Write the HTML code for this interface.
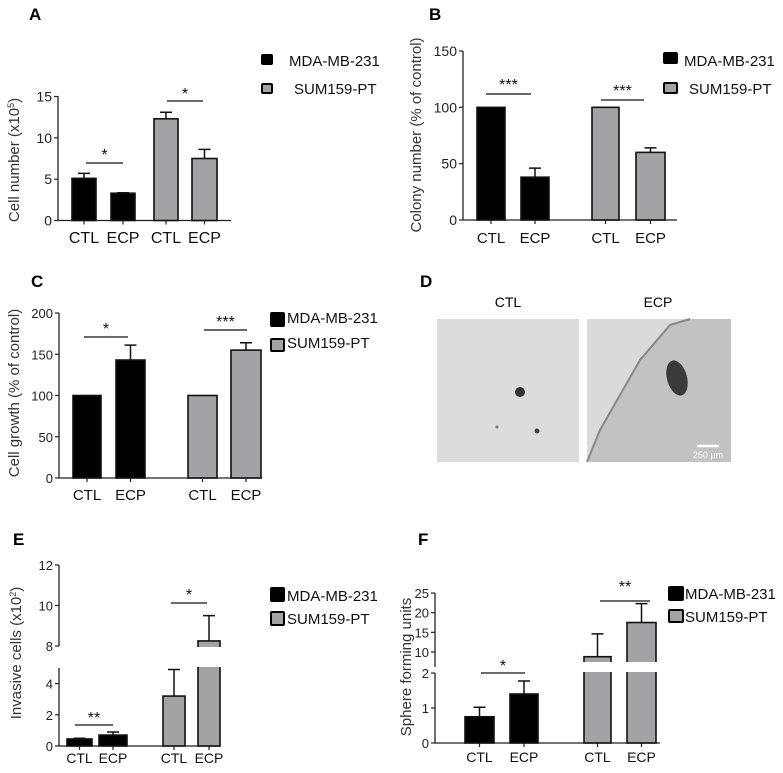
<!DOCTYPE html>
<html><head><meta charset="utf-8"><style>
html,body{margin:0;padding:0;background:#fff;}
svg{display:block;font-family:"Liberation Sans",Arial,sans-serif;}
</style></head><body>
<svg id="fig" width="783" height="773" viewBox="0 0 783 773" xmlns="http://www.w3.org/2000/svg">
<rect width="783" height="773" fill="#fff"/>
<g>
<text x="420" y="287" font-size="17" font-weight="bold">D</text>
<text x="508" y="307" font-size="14" text-anchor="middle">CTL</text>
<text x="658" y="307" font-size="14" text-anchor="middle">ECP</text>
<g>
<rect x="437" y="319" width="142" height="143" fill="#dcdcda"/>
<ellipse cx="520" cy="392" rx="5" ry="5" fill="#333"/><circle cx="537" cy="431" r="2.5" fill="#444"/><circle cx="497" cy="427" r="1.5" fill="#777"/>
</g>
<g>
<rect x="587" y="319" width="144" height="143" fill="#dadad8"/>
<path d="M587 462 L600 430 L640 360 L670 325 L690 319 L731 319 L731 462 Z" fill="#c2c2c0"/>
<path d="M587 462 L600 430 L640 360 L670 325 L690 319" fill="none" stroke="#888" stroke-width="2"/>
<ellipse cx="677" cy="378" rx="10" ry="18" fill="#3a3a3a" transform="rotate(-15 677 378)"/>
<line x1="697" y1="446" x2="719" y2="446" stroke="#fff" stroke-width="2.5"/>
<text x="708" y="458" font-size="9" fill="#fff" text-anchor="middle">250 µm</text>
</g>
</g>
</svg>
<script>
// ---- data ----
const groupsAll = ["CTL","ECP","CTL","ECP"];
const seriesNames = ["MDA-MB-231","SUM159-PT"];
const aValues = [5.1, 3.3, 12.3, 7.5];
const aErrors = [0.6, 0.05, 0.8, 1.1];
const aTicks = [0,5,10,15];
const bValues = [100, 38, 100, 60];
const bErrors = [0, 8, 0, 4];
const bTicks = [0,50,100,150];
const cValues = [100, 143, 100, 155];
const cErrors = [0, 18, 0, 9];
const cTicks = [0,50,100,150,200];
const eValues = [0.45, 0.7, 3.2, 8.25];
const eErrors = [0.05, 0.2, 1.7, 1.25];
const eTicks = [0,2,4,8,10,12];
const fValues = [0.75, 1.4, 8.2, 17.5];
const fErrors = [0.27, 0.37, 6.4, 4.8];
const fTicks = [0,1,2,10,15,20,25];
const sigA = ["*","*"], sigB = ["***","***"], sigC = ["*","***"], sigE = ["**","*"], sigF = ["*","**"];

const NS="http://www.w3.org/2000/svg";
const svg=document.getElementById('fig');
function mk(tag,attrs,parent){const e=document.createElementNS(NS,tag);for(const k in attrs)e.setAttribute(k,attrs[k]);(parent||svg).appendChild(e);return e;}
const GRAY="#a3a3a7";

function panel(p){
  const g=mk('g',{});
  
  
  const L=mk('text',{x:p.letter[0],y:p.letter[1],'font-size':17,'font-weight':'bold'},g);L.textContent=p.id.toUpperCase();
  
  
  p.axisSegs.forEach(s=>{const ax=mk('line',{x1:p.ax,x2:p.ax,y1:s[0],y2:s[1],stroke:'#222','stroke-width':1.3},g);
    
    });
  const xa=mk('line',{x1:p.ax,x2:p.axEnd,y1:p.y(0),y2:p.y(0),stroke:'#222','stroke-width':1.3},g);
  
  
  p.ticks.forEach(t=>{const yy=p.y(t);
    mk('line',{x1:p.ax-4,x2:p.ax,y1:yy,y2:yy,stroke:'#222','stroke-width':1.2},g);
    const tx=mk('text',{x:p.ax-6,y:yy+(p.tdy||5),'font-size':p.tfs,'text-anchor':'end',fill:'#222'},g);tx.textContent=t;
    
    });
  const yt=mk('text',{x:0,y:0,'font-size':p.yfs,'text-anchor':'middle',fill:'#333',transform:`translate(${p.yt[0]},${p.yt[1]}) rotate(-90)`},g);
  yt.innerHTML=p.ytitle;
  
  
  p.vals.forEach((v,i)=>{
    const [x0,x1]=p.bx[i];const top=p.y(v);const base=p.y(0);const cx=(x0+x1)/2;
    if(p.errs[i]>0){const et=p.y(v+p.errs[i]);
      const el=mk('path',{d:`M${cx} ${top} V${et} M${cx-6} ${et} H${cx+6}`,stroke:'#111','stroke-width':1.5,fill:'none'},g);
      
      }
    const r=mk('rect',{x:x0,y:top,width:x1-x0,height:base-top,fill:i<2?'#000':GRAY,stroke:'#111','stroke-width':1.6},g);
    
    
    mk('line',{x1:cx,x2:cx,y1:base,y2:base+4,stroke:'#222','stroke-width':1.2},g);
    const lb=mk('text',{x:cx,y:p.ly,'font-size':p.lfs,'text-anchor':'middle',fill:'#111'},g);lb.textContent=groupsAll[i];
    
    
  });
  p.sig.forEach((s,k)=>{const q=p.sigPos[k];
    const ln=mk('line',{x1:q[0],x2:q[1],y1:q[2],y2:q[2],stroke:'#111','stroke-width':1.3},g);
    
    
    const st=mk('text',{x:(q[0]+q[1])/2,y:q[3],'font-size':16,'text-anchor':'middle',fill:'#111'},g);st.textContent=s;
    
    });
  seriesNames.forEach((n,k)=>{const q=p.leg[k];
    const sq=mk('rect',{x:q[0],y:q[1],width:q[2],height:q[3],fill:k?GRAY:'#000',stroke:'#000','stroke-width':2,rx:1},g);
    
    
    const t=mk('text',{x:q[4],y:q[5],'font-size':p.legfs,fill:'#111'},g);t.textContent=n;
    
    });
}
function lin(v0,y0,v1,y1){return v=>y0+(v-v0)*(y1-y0)/(v1-v0);}

const yA=lin(0,220.5,15,96.5);
panel({id:'a',letter:[29,20],ax:58,axEnd:231,axisSegs:[[96,221]],y:yA,ticks:aTicks,tfs:14,
  yt:[19,160],yfs:15,ytitle:'Cell number (x10<tspan baseline-shift="super" font-size="9">5</tspan>)',
  vals:aValues,errs:aErrors,bx:[[72,96],[111,135],[154,178],[192,217]],ly:243,lfs:16,
  sig:sigA,sigPos:[[86,123,163,160],[167,203,101,99]],
  leg:[[262,55,10,9,289,66],[262,84,10,9,294,94]],legfs:15});

const yB=lin(0,220,150,51);
panel({id:'b',letter:[429,20],ax:463,axEnd:677,axisSegs:[[51,220]],y:yB,ticks:bTicks,tfs:14,
  yt:[421,135],yfs:15,ytitle:'Colony number (% of control)',
  vals:bValues,errs:bErrors,bx:[[477,505],[521,549],[592,619],[636,665]],ly:243,lfs:15,
  sig:sigB,sigPos:[[486,531,94,90],[601,644,100,96]],
  leg:[[664,53,13,10,684,66],[664,83,13,10,689,94]],legfs:15});

const yC=lin(0,478,200,313);
panel({id:'c',letter:[31,287],ax:59,axEnd:262,axisSegs:[[313,478]],y:yC,ticks:cTicks,tfs:13,
  yt:[19,393],yfs:15,ytitle:'Cell growth (% of control)',
  vals:cValues,errs:cErrors,bx:[[73,101],[116,145],[188,217],[231,261]],ly:500,lfs:15,
  sig:sigC,sigPos:[[84,128,337,334],[204,247,330,327]],
  leg:[[271,313,13,13,287,323],[271,339,13,12,287,348]],legfs:15});

function yE(v){ if(v<=5) return 746-v*15.6; if(v<8) return 668-(v-5)*(22/3); return 646-(v-8)*20.25;}
panel({id:'e',letter:[13,545],ax:59,axEnd:220,axisSegs:[[565,646],[668,746]],y:yE,ticks:eTicks,tfs:13,
  yt:[21,653],yfs:15,ytitle:'Invasive  cells (x10<tspan baseline-shift="super" font-size="9">2</tspan>)',
  vals:eValues,errs:eErrors,bx:[[67,92],[99,127],[163,185],[198,220]],ly:763,lfs:14,
  sig:sigE,sigPos:[[75,113,725,723],[171,207,603,600]],
  leg:[[271,588,13,13,287,601],[271,612,13,13,287,624]],legfs:15});

function yF(v){ if(v<=2) return 743-v*35; if(v<10) return 673-(v-2)*(21/8); return 652-(v-10)*3.93;}
panel({id:'f',letter:[418,545],ax:435,axEnd:660,axisSegs:[[593,667],[673,743]],y:yF,ticks:fTicks,tfs:13,
  yt:[411,667],yfs:15,ytitle:'Sphere forming units',
  vals:fValues,errs:fErrors,bx:[[465,494],[510,538],[584,611],[627,656]],ly:762,lfs:14,
  sig:sigF,sigPos:[[481,525,673,671],[600,650,601,592]],
  leg:[[669,587,14,13,685,599],[669,610,14,12,685,622]],legfs:15});
const wb1=mk('rect',{x:160,y:647,width:65,height:20,fill:'#fff'});


const wb2=mk('rect',{x:580,y:662,width:80,height:10,fill:'#fff'});


</script>
</body></html>
